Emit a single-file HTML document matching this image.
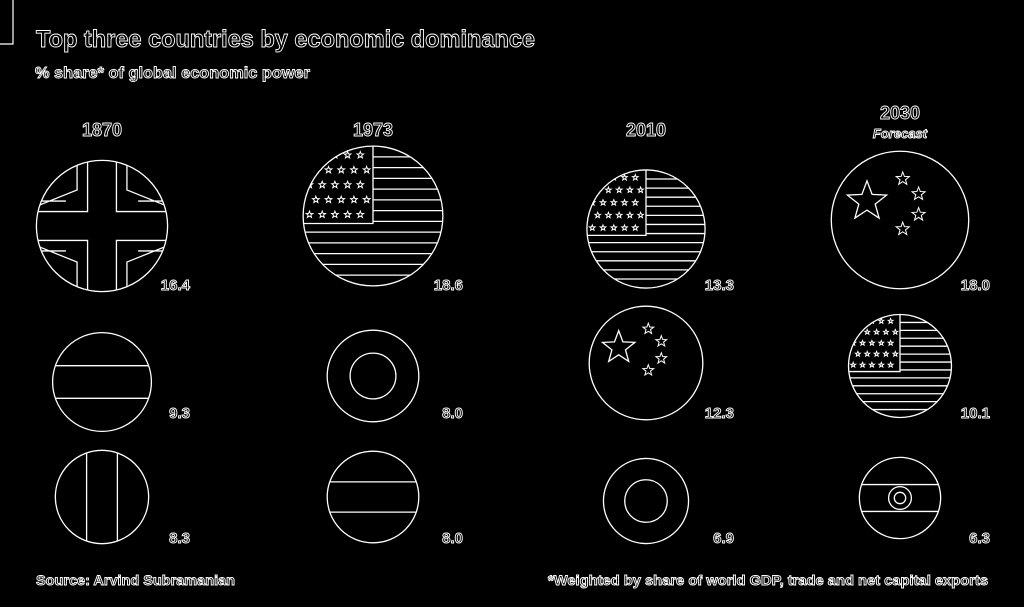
<!DOCTYPE html>
<html><head><meta charset="utf-8"><style>
html,body{margin:0;padding:0;background:#000;}
svg text{font-family:"Liberation Sans",sans-serif;font-weight:bold;fill:#000;stroke:#fff;stroke-width:0.9;}
</style></head><body>
<svg id="chart" width="1024" height="602" viewBox="0 0 1024 602" xmlns="http://www.w3.org/2000/svg">
<rect width="1024" height="602" fill="#000"/>
<path d="M13 0 V44 H0" fill="none" stroke="#fff" stroke-width="1.2"/>
<text x="36" y="47" font-size="24" textLength="499" lengthAdjust="spacingAndGlyphs">Top three countries by economic dominance</text>
<text x="35" y="78" font-size="16" textLength="275" lengthAdjust="spacingAndGlyphs">% share* of global economic power</text>
<text x="36" y="585" font-size="14" textLength="199" lengthAdjust="spacingAndGlyphs">Source: Arvind Subramanian</text>
<text x="988" y="585" font-size="14" text-anchor="end" textLength="440" lengthAdjust="spacingAndGlyphs">*Weighted by share of world GDP, trade and net capital exports</text>
<g id="marks"></g>
</svg>
<script>
const years = ["1870", "1973", "2010", "2030"];
const flags1 = ["uk", "us", "us", "cn"];
const flags2 = ["stripesH", "ring", "cn", "us"];
const flags3 = ["stripesV", "stripesH", "ring", "in"];
const values1 = [16.4, 18.6, 13.3, 18.0];
const values2 = [9.3, 8.0, 12.3, 10.1];
const values3 = [8.3, 8.0, 6.9, 6.3];

const NS = "http://www.w3.org/2000/svg";
const g = document.getElementById("marks");
const colCenters = [102, 373, 646, 900];
const labelRight = [190, 463, 734, 990];
const headerY = [136, 136, 136, 119];
const rowCY = [[226, 216, 229, 220], [382, 376, 363, 366], [497, 497, 501, 498]];
const labelY = [290, 418, 543];
const colX = i => colCenters[i];
const rScale = v => 16.2 * Math.sqrt(v);
let clipId = 0;

function mk(tag, attrs, parent) {
  const e = document.createElementNS(NS, tag);
  for (const k in attrs) e.setAttribute(k, attrs[k]);
  (parent || g).appendChild(e);
  return e;
}
function starPath(cx, cy, R) {
  let d = "";
  for (let k = 0; k < 10; k++) {
    const rr = k % 2 ? R * 0.42 : R;
    const a = -Math.PI / 2 + k * Math.PI / 5;
    d += (k ? "L" : "M") + (cx + rr * Math.cos(a)).toFixed(1) + " " + (cy + rr * Math.sin(a)).toFixed(1);
  }
  return d + "Z";
}

years.forEach((y, i) => {
  const t = mk("text", {x: colX(i), y: headerY[i], "font-size": 18, "text-anchor": "middle"});
  t.textContent = y;
  
  
});
const fc = mk("text", {x: colX(3), y: 138, "font-size": 13, "font-style": "italic", "text-anchor": "middle"});
fc.textContent = "Forecast";



function drawFlag(type, cx, cy, r, name) {
  const grp = mk("g", {fill: "none", stroke: "#fff", "stroke-width": 1.3});
  
  
  const id = "c" + (clipId++);
  const cp = mk("clipPath", {id: id}, grp);
  mk("circle", {cx: cx, cy: cy, r: r}, cp);
  const inner = mk("g", {"clip-path": "url(#" + id + ")"}, grp);
  mk("circle", {cx: cx, cy: cy, r: r}, grp);
  if (type === "uk") {
    const w = r * 0.22, w2 = r * 0.38;
    [[-1,-1],[1,-1],[-1,1],[1,1]].forEach(([sx, sy]) => {
      const x0 = cx + sx * w, y0 = cy + sy * w;
      const x1 = cx + sx * r, y1 = cy + sy * r;
      mk("path", {d: `M${x0} ${y0} V${y1} H${x1} V${y0} Z`}, inner);
      mk("path", {d: `M${cx + sx*w2} ${y1} L${cx + sx*w2} ${cy + sy*r*0.55} L${x1} ${cy + sy*r*0.3} M${x1} ${cy + sy*w2} L${cx + sx*r*0.55} ${cy + sy*w2}`}, inner);
    });
  } else if (type === "us") {
    const n = 13, h = 2 * r / n;
    for (let k = 1; k < n; k++) {
      const yy = cy - r + k * h;
      const x0 = yy < cy + h * 0.7 ? cx : cx - r;
      mk("line", {x1: x0, y1: yy, x2: cx + r, y2: yy}, inner);
    }
    mk("path", {d: `M${cx} ${cy-r} V${cy + h*0.7} H${cx-r}`}, inner);
    for (let a = 0; a < 5; a++) for (let b = 0; b < 5; b++) {
      const sx = cx - r + (b + 0.5 + (a % 2) * 0.5) * r / 5.5;
      const sy = cy - r + (a + 0.6) * (r + h * 0.7) / 5.2;
      mk("path", {d: starPath(sx, sy, r * 0.05), "stroke-width": 1}, inner);
    }
  } else if (type === "cn") {
    mk("path", {d: starPath(cx - r * 0.48, cy - r * 0.27, r * 0.3)}, inner);
    [[0.04,-0.6],[0.27,-0.38],[0.27,-0.08],[0.04,0.13]].forEach(([a,b]) =>
      mk("path", {d: starPath(cx + a*r, cy + b*r, r * 0.1), "stroke-width": 1}, inner));
  } else if (type === "stripesH") {
    mk("path", {d: `M${cx-r} ${cy-r*0.33} H${cx+r} M${cx-r} ${cy+r*0.33} H${cx+r}`}, inner);
  } else if (type === "stripesV") {
    mk("path", {d: `M${cx-r*0.33} ${cy-r} V${cy+r} M${cx+r*0.33} ${cy-r} V${cy+r}`}, inner);
  } else if (type === "ring") {
    mk("circle", {cx: cx, cy: cy, r: r * 0.5}, grp);
  } else if (type === "in") {
    mk("path", {d: `M${cx-r} ${cy-r*0.33} H${cx+r} M${cx-r} ${cy+r*0.33} H${cx+r}`}, inner);
    mk("circle", {cx: cx, cy: cy, r: r * 0.28}, grp);
    mk("circle", {cx: cx, cy: cy, r: r * 0.14}, grp);
  }
}

[[flags1, values1], [flags2, values2], [flags3, values3]].forEach(([flags, vals], row) => {
  vals.forEach((v, i) => {
    const r = rScale(v);
    const cx = colX(i);
    const cy = rowCY[row][i];
    drawFlag(flags[i], cx, cy, r, 'flag-' + years[i] + '-rank' + (row + 1));
    const lab = mk("text", {x: labelRight[i], y: labelY[row], "font-size": 15, "text-anchor": "end"});
    lab.textContent = v.toFixed(1);
    
    
  });
});
</script>
</body></html>
